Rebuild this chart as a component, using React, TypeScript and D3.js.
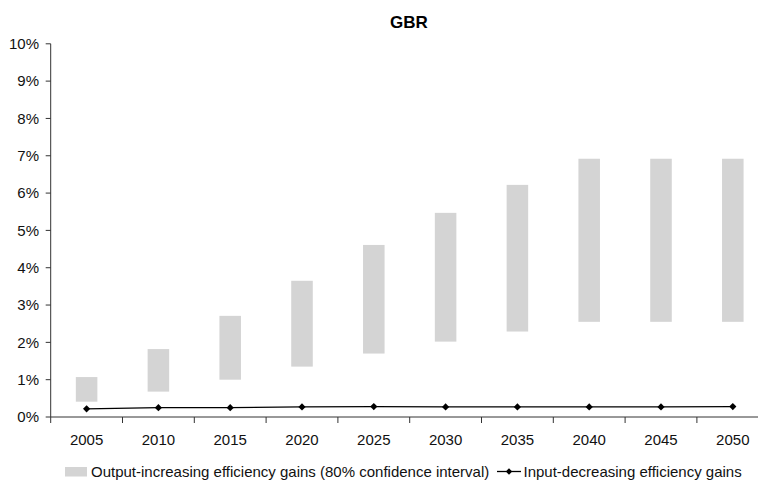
import React from "react";
import * as d3 from "d3";

const years = ["2005", "2010", "2015", "2020", "2025", "2030", "2035", "2040", "2045", "2050"];
const ciLow = [0.41, 0.68, 1.0, 1.35, 1.7, 2.02, 2.29, 2.55, 2.55, 2.55];
const ciHigh = [1.07, 1.82, 2.71, 3.65, 4.61, 5.47, 6.22, 6.92, 6.92, 6.92];
const inputDec = [0.22, 0.25, 0.25, 0.27, 0.28, 0.27, 0.27, 0.27, 0.27, 0.28];
const yTicks = [0, 1, 2, 3, 4, 5, 6, 7, 8, 9, 10];

const W = 758;
const H = 481;
const FONT = "'Liberation Sans', Arial, sans-serif";
const FS = 15;

export default function App() {
  const x = d3.scaleBand<string>().domain(years).range([50.7, 768.7]).paddingInner(0.7).paddingOuter(0.35);
  const y = d3.scaleLinear().domain([0, 10]).range([417, 43.8]);
  const step = x.step();
  const x0 = 50.7;
  const cx = (d: string) => (x(d) as number) + x.bandwidth() / 2;
  const line = d3
    .line<number>()
    .x((_, i) => cx(years[i]))
    .y((v) => y(v));
  const diamond = (px: number, py: number, r = 3.6) =>
    `M${px},${py - r}L${px + r},${py}L${px},${py + r}L${px - r},${py}Z`;
  const axisColor = "#333";

  return (
    <div style={{ position: "absolute", left: 0, top: 0 }}>
      <svg width={W} height={H} style={{ display: "block", fontFamily: FONT }}>
        <rect x={0} y={0} width={W} height={H} fill="#fff" />
        <text x={409} y={28} textAnchor="middle" fontSize={17} fontWeight="bold" fill="#000">
          GBR
        </text>
        {years.map((yr, i) => (
          <rect
            key={yr}
            x={x(yr)}
            width={x.bandwidth()}
            y={y(ciHigh[i])}
            height={y(ciLow[i]) - y(ciHigh[i])}
            fill="#d4d4d4"
          />
        ))}
        {/* y axis */}
        <line x1={x0} x2={x0} y1={y(10)} y2={y(0)} stroke={axisColor} strokeWidth={1} />
        {yTicks.map((t) => (
          <g key={t}>
            <line x1={x0 - 5} x2={x0} y1={y(t)} y2={y(t)} stroke={axisColor} />
            <text x={39} y={y(t)} dy="0.35em" textAnchor="end" fontSize={FS} fill="#111">
              {t}%
            </text>
          </g>
        ))}
        {/* x axis */}
        <line x1={x0} x2={768.7} y1={y(0)} y2={y(0)} stroke={axisColor} />
        {d3.range(years.length + 1).map((i) => (
          <line key={i} x1={x0 + i * step} x2={x0 + i * step} y1={y(0)} y2={y(0) + 6} stroke={axisColor} />
        ))}
        {years.map((yr) => (
          <text key={yr} x={cx(yr)} y={445} textAnchor="middle" fontSize={FS} fill="#111">
            {yr}
          </text>
        ))}
        {/* input-decreasing line */}
        <path d={line(inputDec) || ""} fill="none" stroke="#000" strokeWidth={1.3} />
        {inputDec.map((v, i) => (
          <path key={i} d={diamond(cx(years[i]), y(v))} fill="#000" />
        ))}
        {/* legend */}
        <rect x={65} y={467} width={22} height={9.5} fill="#d4d4d4" />
        <text x={91} y={476.5} fontSize={FS} fill="#111">
          Output-increasing efficiency gains (80% confidence interval)
        </text>
        <line x1={497} x2={521} y1={471.5} y2={471.5} stroke="#000" strokeWidth={1.3} />
        <path d={diamond(509, 471.5, 3.2)} fill="#000" />
        <text x={523.5} y={476.5} fontSize={FS} fill="#111">
          Input-decreasing efficiency gains
        </text>
      </svg>
    </div>
  );
}
